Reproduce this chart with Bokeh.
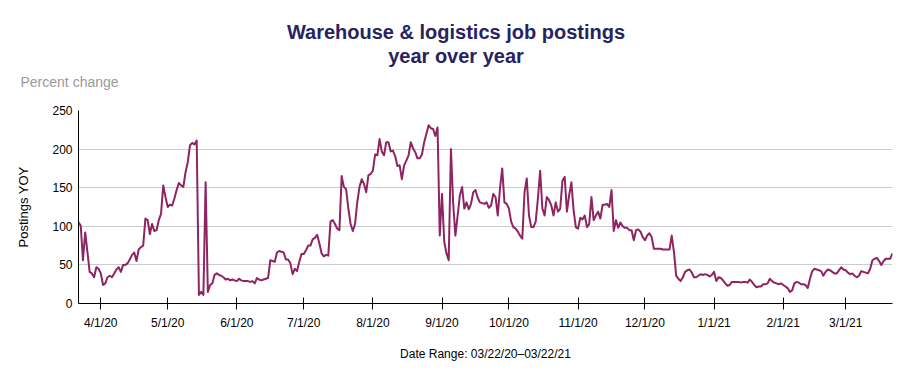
import pandas as pd
from bokeh.plotting import figure
from bokeh.layouts import column
from bokeh.models import Range1d, FixedTicker, Label, ColumnDataSource
from bokeh.embed import file_html
from bokeh.resources import INLINE

# ---------------- data ----------------
start_date = "2020-03-22"
end_date = "2021-03-22"

postings_yoy = [
    105, 101, 56, 92, 67, 41, 39, 34, 47, 45,
    39, 24, 26, 34, 36, 34, 39, 44, 47, 41,
    50, 50, 52, 57, 63, 66, 55, 70, 73, 75,
    110, 108, 90, 103, 94, 95, 108, 116, 153, 138,
    125, 128, 127, 136, 147, 156, 153, 151, 170, 183,
    205, 208, 206, 211, 11, 15, 11, 157, 15, 24,
    26, 37, 39, 37, 36, 34, 31, 32, 30, 31,
    30, 29, 32, 30, 29, 29, 29, 28, 29, 26,
    33, 31, 30, 31, 32, 33, 56, 55, 54, 66,
    68, 67, 66, 57, 57, 52, 38, 45, 42, 54,
    64, 64, 69, 75, 75, 83, 85, 89, 78, 65,
    61, 63, 62, 106, 108, 103, 97, 95, 165, 151,
    148, 123, 103, 94, 103, 131, 151, 161, 155, 144,
    166, 168, 172, 193, 192, 213, 197, 192, 209, 209,
    197, 198, 191, 178, 179, 161, 179, 185, 192, 209,
    201, 196, 188, 188, 193, 209, 220, 231, 227, 226,
    217, 228, 88, 142, 80, 65, 56, 200, 130, 88,
    114, 140, 151, 123, 131, 122, 129, 144, 147, 137,
    131, 130, 129, 131, 124, 127, 142, 138, 114, 149,
    175, 131, 129, 123, 106, 99, 97, 93, 88, 84,
    144, 162, 114, 99, 99, 106, 136, 172, 123, 114,
    138, 134, 127, 114, 131, 119, 123, 159, 164, 119,
    140, 157, 121, 99, 97, 111, 109, 114, 99, 103,
    138, 108, 114, 119, 110, 128, 128, 129, 125, 147,
    94, 108, 98, 105, 100, 98, 98, 95, 95, 82,
    95, 96, 93, 86, 82, 88, 91, 86, 71, 71,
    71, 71, 70, 70, 70, 70, 88, 67, 36, 32,
    29, 34, 41, 43, 44, 40, 34, 34, 36, 38,
    37, 38, 37, 35, 37, 41, 29, 34, 33, 30,
    26, 23, 24, 28, 28, 28, 28, 27, 28, 28,
    27, 31, 28, 24, 21, 22, 22, 25, 25, 26,
    32, 29, 27, 26, 25, 26, 24, 22, 20, 15,
    17, 26, 28, 27, 25, 25, 24, 20, 32, 42,
    45, 44, 43, 42, 36, 41, 44, 43, 41, 39,
    39, 43, 47, 44, 43, 40, 38, 39, 36, 34,
    36, 42, 41, 40, 39, 45, 56, 58, 59, 55,
    50, 55, 58, 58, 58, 65,
]

tick_dates = ["2020-04-01", "2020-05-01", "2020-06-01", "2020-07-01",
              "2020-08-01", "2020-09-01", "2020-10-01", "2020-11-01",
              "2020-12-01", "2021-01-01", "2021-02-01", "2021-03-01"]
tick_labels = ["4/1/20", "5/1/20", "6/1/20", "7/1/20", "8/1/20", "9/1/20",
               "10/1/20", "11/1/20", "12/1/20", "1/1/21", "2/1/21", "3/1/21"]
y_ticks = [0, 50, 100, 150, 200, 250]

title_line1 = "Warehouse & logistics job postings"
title_line2 = "year over year"
unit_note = "Percent change"
y_label = "Postings YOY"
x_label = "Date Range: 03/22/20\u201303/22/21"

# ---------------- build ----------------
dates = pd.date_range(start_date, end_date, freq="D")
n = min(len(dates), len(postings_yoy))
t0 = pd.Timestamp(start_date)
day_idx = [(d - t0).days for d in dates[:n]]
tick_pos = [(pd.Timestamp(d) - t0).days for d in tick_dates]

src = ColumnDataSource(dict(x=day_idx, y=postings_yoy[:n]))

FONT = "Liberation Sans"
LINE_COLOR = "#8e2462"
TITLE_COLOR = "#28235f"
W = 911
HEAD_H = 100
FRAME_L = 78
FRAME_R = 892

# ---------- header (titles) ----------
head = figure(width=W, height=HEAD_H, x_range=Range1d(0, W),
              y_range=Range1d(HEAD_H, 0), x_axis_type=None, y_axis_type=None,
              output_backend="svg", toolbar_location=None,
              min_border_left=0, min_border_right=0,
              min_border_top=0, min_border_bottom=0)
head.outline_line_color = None
head.xgrid.visible = False
head.ygrid.visible = False

head.add_layout(Label(x=W / 2, y=31, text=title_line1, text_align="center",
                      text_baseline="alphabetic", text_font=FONT,
                      text_font_size="20px", text_font_style="bold",
                      text_color=TITLE_COLOR))
head.add_layout(Label(x=W / 2, y=55, text=title_line2, text_align="center",
                      text_baseline="alphabetic", text_font=FONT,
                      text_font_size="20px", text_font_style="bold",
                      text_color=TITLE_COLOR))
head.add_layout(Label(x=20, y=81, text=unit_note, text_align="left",
                      text_baseline="alphabetic", text_font=FONT,
                      text_font_size="14px", text_color="#9a9a9a"))

# ---------- main chart ----------
p = figure(width=W, height=280,
           x_range=Range1d(0, len(dates) - 1), y_range=Range1d(0, 250),
           output_backend="svg", toolbar_location=None,
           min_border_left=FRAME_L, min_border_right=W - FRAME_R,
           min_border_top=10, min_border_bottom=77)
p.outline_line_color = None

p.line("x", "y", source=src, line_color=LINE_COLOR, line_width=2,
       line_join="round")

p.xgrid.grid_line_color = None
p.ygrid.ticker = FixedTicker(ticks=y_ticks)
p.ygrid.grid_line_color = "#cccccc"
p.ygrid.grid_line_width = 1

xa = p.xaxis[0]
xa.ticker = FixedTicker(ticks=tick_pos)
xa.major_label_overrides = {int(k): v for k, v in zip(tick_pos, tick_labels)}
xa.minor_tick_line_color = None
xa.major_tick_in = 6
xa.major_tick_out = 6
xa.major_tick_line_color = "black"
xa.axis_line_color = "black"
xa.major_label_standoff = 6
xa.major_label_text_font = FONT
xa.major_label_text_font_size = "12px"
xa.major_label_text_color = "black"
xa.axis_label = x_label
xa.axis_label_text_font = FONT
xa.axis_label_text_font_size = "12px"
xa.axis_label_text_font_style = "normal"
xa.axis_label_text_color = "black"
xa.axis_label_standoff = 14

ya = p.yaxis[0]
ya.ticker = FixedTicker(ticks=y_ticks)
ya.minor_tick_line_color = None
ya.major_tick_line_color = None
ya.major_tick_in = 0
ya.major_tick_out = 0
ya.axis_line_color = "black"
ya.major_label_standoff = 6
ya.major_label_text_font = FONT
ya.major_label_text_font_size = "12px"
ya.major_label_text_color = "black"
ya.axis_label = y_label
ya.axis_label_text_font = FONT
ya.axis_label_text_font_size = "13px"
ya.axis_label_text_font_style = "normal"
ya.axis_label_text_color = "black"
ya.axis_label_standoff = 18

# nest the header in its own column so its frame is not aligned with the chart's
layout = column(column(head, spacing=0), p, spacing=0)
open("out.html", "w").write(file_html(layout, INLINE))
